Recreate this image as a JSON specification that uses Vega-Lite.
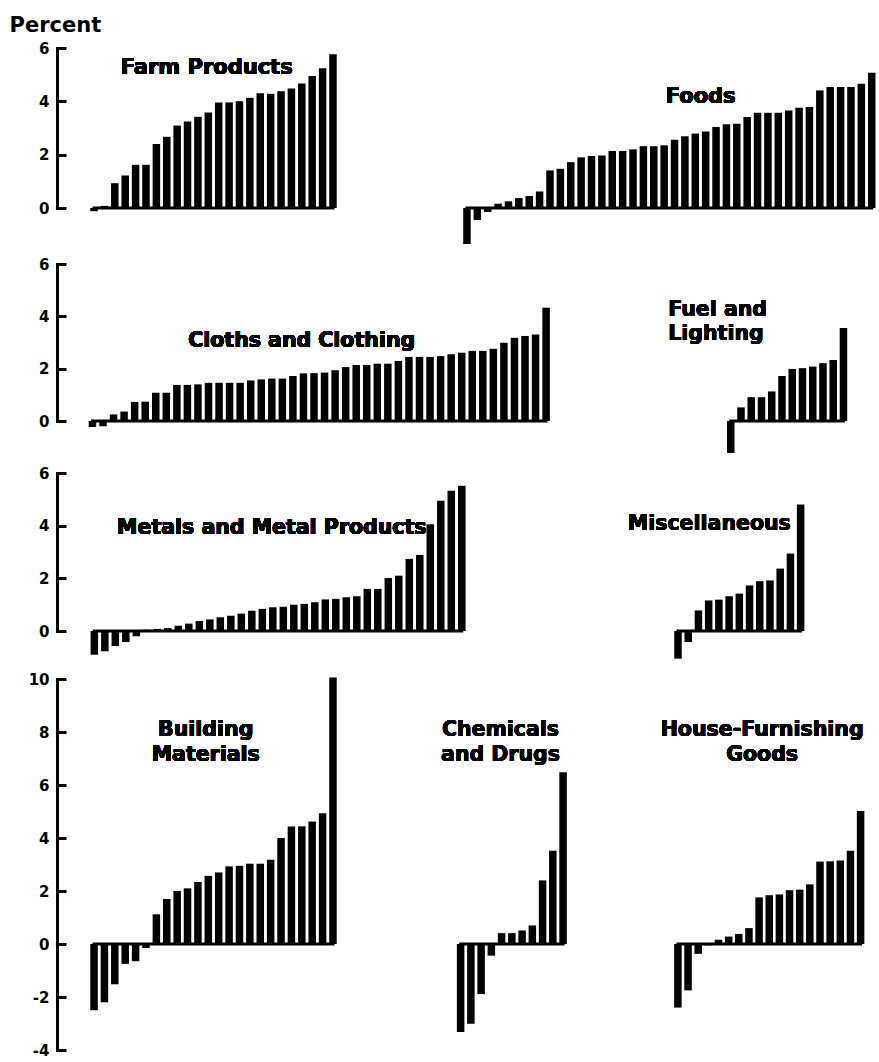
{
  "$schema": "https://vega.github.io/schema/vega-lite/v6.json",
  "padding": {"left": 9, "top": 14, "right": 0, "bottom": 0},
  "background": "white",
  "config": {"view": {"stroke": null}, "axis": {"grid": false}},
  "datasets": {
    "farm": [{"rank":1,"value":-0.12},{"rank":2,"value":0.08},{"rank":3,"value":0.93},{"rank":4,"value":1.22},{"rank":5,"value":1.62},{"rank":6,"value":1.62},{"rank":7,"value":2.4},{"rank":8,"value":2.67},{"rank":9,"value":3.09},{"rank":10,"value":3.24},{"rank":11,"value":3.42},{"rank":12,"value":3.58},{"rank":13,"value":3.96},{"rank":14,"value":3.96},{"rank":15,"value":4.0},{"rank":16,"value":4.13},{"rank":17,"value":4.3},{"rank":18,"value":4.28},{"rank":19,"value":4.38},{"rank":20,"value":4.48},{"rank":21,"value":4.67},{"rank":22,"value":4.95},{"rank":23,"value":5.24},{"rank":24,"value":5.77}],
    "foods": [{"rank":1,"value":-1.35},{"rank":2,"value":-0.45},{"rank":3,"value":-0.15},{"rank":4,"value":0.16},{"rank":5,"value":0.25},{"rank":6,"value":0.37},{"rank":7,"value":0.45},{"rank":8,"value":0.62},{"rank":9,"value":1.41},{"rank":10,"value":1.47},{"rank":11,"value":1.72},{"rank":12,"value":1.9},{"rank":13,"value":1.95},{"rank":14,"value":1.97},{"rank":15,"value":2.14},{"rank":16,"value":2.14},{"rank":17,"value":2.2},{"rank":18,"value":2.32},{"rank":19,"value":2.32},{"rank":20,"value":2.35},{"rank":21,"value":2.56},{"rank":22,"value":2.69},{"rank":23,"value":2.79},{"rank":24,"value":2.87},{"rank":25,"value":3.04},{"rank":26,"value":3.14},{"rank":27,"value":3.16},{"rank":28,"value":3.41},{"rank":29,"value":3.57},{"rank":30,"value":3.57},{"rank":31,"value":3.57},{"rank":32,"value":3.66},{"rank":33,"value":3.76},{"rank":34,"value":3.79},{"rank":35,"value":4.41},{"rank":36,"value":4.54},{"rank":37,"value":4.54},{"rank":38,"value":4.54},{"rank":39,"value":4.66},{"rank":40,"value":5.07}],
    "cloths": [{"rank":1,"value":-0.23},{"rank":2,"value":-0.2},{"rank":3,"value":0.25},{"rank":4,"value":0.36},{"rank":5,"value":0.73},{"rank":6,"value":0.74},{"rank":7,"value":1.08},{"rank":8,"value":1.08},{"rank":9,"value":1.38},{"rank":10,"value":1.38},{"rank":11,"value":1.4},{"rank":12,"value":1.46},{"rank":13,"value":1.46},{"rank":14,"value":1.46},{"rank":15,"value":1.46},{"rank":16,"value":1.55},{"rank":17,"value":1.59},{"rank":18,"value":1.62},{"rank":19,"value":1.62},{"rank":20,"value":1.72},{"rank":21,"value":1.82},{"rank":22,"value":1.83},{"rank":23,"value":1.85},{"rank":24,"value":1.94},{"rank":25,"value":2.06},{"rank":26,"value":2.14},{"rank":27,"value":2.14},{"rank":28,"value":2.19},{"rank":29,"value":2.19},{"rank":30,"value":2.29},{"rank":31,"value":2.45},{"rank":32,"value":2.45},{"rank":33,"value":2.45},{"rank":34,"value":2.48},{"rank":35,"value":2.55},{"rank":36,"value":2.61},{"rank":37,"value":2.68},{"rank":38,"value":2.68},{"rank":39,"value":2.76},{"rank":40,"value":2.99},{"rank":41,"value":3.18},{"rank":42,"value":3.25},{"rank":43,"value":3.31},{"rank":44,"value":4.33}],
    "fuel": [{"rank":1,"value":-1.22},{"rank":2,"value":0.52},{"rank":3,"value":0.91},{"rank":4,"value":0.91},{"rank":5,"value":1.13},{"rank":6,"value":1.72},{"rank":7,"value":1.99},{"rank":8,"value":2.02},{"rank":9,"value":2.08},{"rank":10,"value":2.21},{"rank":11,"value":2.33},{"rank":12,"value":3.55}],
    "metals": [{"rank":1,"value":-0.9},{"rank":2,"value":-0.77},{"rank":3,"value":-0.57},{"rank":4,"value":-0.42},{"rank":5,"value":-0.2},{"rank":6,"value":0.05},{"rank":7,"value":0.08},{"rank":8,"value":0.11},{"rank":9,"value":0.2},{"rank":10,"value":0.28},{"rank":11,"value":0.38},{"rank":12,"value":0.44},{"rank":13,"value":0.52},{"rank":14,"value":0.58},{"rank":15,"value":0.66},{"rank":16,"value":0.77},{"rank":17,"value":0.84},{"rank":18,"value":0.9},{"rank":19,"value":0.92},{"rank":20,"value":1.0},{"rank":21,"value":1.03},{"rank":22,"value":1.09},{"rank":23,"value":1.2},{"rank":24,"value":1.22},{"rank":25,"value":1.28},{"rank":26,"value":1.32},{"rank":27,"value":1.6},{"rank":28,"value":1.6},{"rank":29,"value":2.01},{"rank":30,"value":2.1},{"rank":31,"value":2.74},{"rank":32,"value":2.89},{"rank":33,"value":4.05},{"rank":34,"value":4.95},{"rank":35,"value":5.33},{"rank":36,"value":5.52}],
    "misc": [{"rank":1,"value":-1.05},{"rank":2,"value":-0.42},{"rank":3,"value":0.78},{"rank":4,"value":1.16},{"rank":5,"value":1.19},{"rank":6,"value":1.32},{"rank":7,"value":1.42},{"rank":8,"value":1.73},{"rank":9,"value":1.89},{"rank":10,"value":1.92},{"rank":11,"value":2.37},{"rank":12,"value":2.94},{"rank":13,"value":4.8}],
    "building": [{"rank":1,"value":-2.5},{"rank":2,"value":-2.2},{"rank":3,"value":-1.52},{"rank":4,"value":-0.75},{"rank":5,"value":-0.65},{"rank":6,"value":-0.15},{"rank":7,"value":1.12},{"rank":8,"value":1.7},{"rank":9,"value":2.0},{"rank":10,"value":2.1},{"rank":11,"value":2.34},{"rank":12,"value":2.57},{"rank":13,"value":2.7},{"rank":14,"value":2.93},{"rank":15,"value":2.95},{"rank":16,"value":3.03},{"rank":17,"value":3.03},{"rank":18,"value":3.18},{"rank":19,"value":4.0},{"rank":20,"value":4.43},{"rank":21,"value":4.44},{"rank":22,"value":4.62},{"rank":23,"value":4.93},{"rank":24,"value":10.06}],
    "chem": [{"rank":1,"value":-3.32},{"rank":2,"value":-3.01},{"rank":3,"value":-1.89},{"rank":4,"value":-0.44},{"rank":5,"value":0.41},{"rank":6,"value":0.41},{"rank":7,"value":0.51},{"rank":8,"value":0.7},{"rank":9,"value":2.4},{"rank":10,"value":3.52},{"rank":11,"value":6.48}],
    "house": [{"rank":1,"value":-2.4},{"rank":2,"value":-1.75},{"rank":3,"value":-0.37},{"rank":4,"value":-0.05},{"rank":5,"value":0.16},{"rank":6,"value":0.28},{"rank":7,"value":0.38},{"rank":8,"value":0.6},{"rank":9,"value":1.76},{"rank":10,"value":1.84},{"rank":11,"value":1.87},{"rank":12,"value":2.03},{"rank":13,"value":2.05},{"rank":14,"value":2.25},{"rank":15,"value":3.11},{"rank":16,"value":3.12},{"rank":17,"value":3.15},{"rank":18,"value":3.52},{"rank":19,"value":5.02}]
  },
  "spacing": 13,
  "resolve": {"scale": {"x": "independent", "y": "independent"}},
  "vconcat": [
    {
      "hconcat": [
        {
          "width": 343, "height": 160,
          "data": {"name": "farm"},
          "layer": [
            {"mark": {"type": "bar", "orient": "vertical", "size": 7.5, "color": "#000"},
             "encoding": {
               "x": {"field": "rank", "type": "quantitative", "scale": {"domain": [-2.084, 29.97], "nice": false}, "axis": null},
               "y": {"field": "value", "type": "quantitative", "scale": {"domain": [0, 6], "nice": false},
                     "axis": {"values": [0, 2, 4, 6], "domainWidth": 3, "domainColor": "#000", "domainCap": "square", "tickWidth": 3, "tickColor": "#000", "tickSize": -9, "labelPadding": 17, "labelFont": "DejaVu Sans", "labelFontWeight": "bold", "labelFontSize": 15, "labelColor": "#000", "labelExpr": "datum.value + ''",
                              "title": "Percent", "titleAngle": 0, "titleAlign": "left", "titleBaseline": "alphabetic", "titleX": -48, "titleY": -17, "titleFont": "DejaVu Sans", "titleFontSize": 21, "titleFontWeight": "bold", "titleColor": "#000"}}
             }},
            {"mark": {"type": "rule", "strokeWidth": 3, "strokeCap": "square", "color": "#000"},
             "encoding": {"x": {"aggregate": "min", "field": "rank", "type": "quantitative"}, "x2": {"aggregate": "max", "field": "rank"}, "y": {"datum": 0}}},
            {"mark": {"type": "text", "font": "DejaVu Sans", "fontWeight": "bold", "fontSize": 21, "align": "center", "baseline": "alphabetic", "color": "#000"},
             "encoding": {"x": {"datum": 11.84}, "y": {"datum": 5.02}, "text": {"value": "Farm Products"}}}
          ]
        },
        {
          "width": 479, "height": 160,
          "data": {"name": "foods"},
          "layer": [
            {"mark": {"type": "bar", "orient": "vertical", "size": 7.5, "color": "#000"},
             "encoding": {
               "x": {"field": "rank", "type": "quantitative", "scale": {"domain": [-4.97, 40.22], "nice": false}, "axis": null},
               "y": {"field": "value", "type": "quantitative", "scale": {"domain": [0, 6], "nice": false}, "axis": null}
             }},
            {"mark": {"type": "rule", "strokeWidth": 3, "strokeCap": "square", "color": "#000"},
             "encoding": {"x": {"aggregate": "min", "field": "rank", "type": "quantitative"}, "x2": {"aggregate": "max", "field": "rank"}, "y": {"datum": 0}}},
            {"mark": {"type": "text", "font": "DejaVu Sans", "fontWeight": "bold", "fontSize": 21, "align": "center", "baseline": "alphabetic", "color": "#000"},
             "encoding": {"x": {"datum": 23.52}, "y": {"datum": 3.94}, "text": {"value": "Foods"}}}
          ]
        }
      ],
      "spacing": 0, "bounds": "flush",
      "resolve": {"scale": {"x": "independent", "y": "independent"}}
    },
    {
      "hconcat": [
        {
          "width": 563, "height": 157,
          "data": {"name": "cloths"},
          "layer": [
            {"mark": {"type": "bar", "orient": "vertical", "size": 7.5, "color": "#000"},
             "encoding": {
               "x": {"field": "rank", "type": "quantitative", "scale": {"domain": [-1.886, 50.53], "nice": false}, "axis": null},
               "y": {"field": "value", "type": "quantitative", "scale": {"domain": [0, 6], "nice": false},
                     "axis": {"values": [0, 2, 4, 6], "domainWidth": 3, "domainColor": "#000", "domainCap": "square", "tickWidth": 3, "tickColor": "#000", "tickSize": -9, "labelPadding": 17, "labelFont": "DejaVu Sans", "labelFontWeight": "bold", "labelFontSize": 15, "labelColor": "#000", "labelExpr": "datum.value + ''", "title": null}}
             }},
            {"mark": {"type": "rule", "strokeWidth": 3, "strokeCap": "square", "color": "#000"},
             "encoding": {"x": {"aggregate": "min", "field": "rank", "type": "quantitative"}, "x2": {"aggregate": "max", "field": "rank"}, "y": {"datum": 0}}},
            {"mark": {"type": "text", "font": "DejaVu Sans", "fontWeight": "bold", "fontSize": 20.5, "align": "center", "baseline": "alphabetic", "color": "#000"},
             "encoding": {"x": {"datum": 20.83}, "y": {"datum": 2.83}, "text": {"value": "Cloths and Clothing"}}}
          ]
        },
        {
          "width": 259, "height": 157,
          "data": {"name": "fuel"},
          "layer": [
            {"mark": {"type": "bar", "orient": "vertical", "size": 7.5, "color": "#000"},
             "encoding": {
               "x": {"field": "rank", "type": "quantitative", "scale": {"domain": [-9.32, 14.98], "nice": false}, "axis": null},
               "y": {"field": "value", "type": "quantitative", "scale": {"domain": [0, 6], "nice": false}, "axis": null}
             }},
            {"mark": {"type": "rule", "strokeWidth": 3, "strokeCap": "square", "color": "#000"},
             "encoding": {"x": {"aggregate": "min", "field": "rank", "type": "quantitative"}, "x2": {"aggregate": "max", "field": "rank"}, "y": {"datum": 0}}},
            {"mark": {"type": "text", "font": "DejaVu Sans", "fontWeight": "bold", "fontSize": 20.5, "align": "left", "baseline": "alphabetic", "lineHeight": 24, "color": "#000"},
             "encoding": {"x": {"datum": -5.1}, "y": {"datum": 4.01}, "text": {"value": ["Fuel and", "Lighting"]}}}
          ]
        }
      ],
      "spacing": 0, "bounds": "flush",
      "resolve": {"scale": {"x": "independent", "y": "independent"}}
    },
    {
      "hconcat": [
        {
          "width": 503, "height": 158,
          "data": {"name": "metals"},
          "layer": [
            {"mark": {"type": "bar", "orient": "vertical", "size": 7.5, "color": "#000"},
             "encoding": {
               "x": {"field": "rank", "type": "quantitative", "scale": {"domain": [-2.081, 44.88], "nice": false}, "axis": null},
               "y": {"field": "value", "type": "quantitative", "scale": {"domain": [0, 6], "nice": false},
                     "axis": {"values": [0, 2, 4, 6], "domainWidth": 3, "domainColor": "#000", "domainCap": "square", "tickWidth": 3, "tickColor": "#000", "tickSize": -9, "labelPadding": 17, "labelFont": "DejaVu Sans", "labelFontWeight": "bold", "labelFontSize": 15, "labelColor": "#000", "labelExpr": "datum.value + ''", "title": null}}
             }},
            {"mark": {"type": "rule", "strokeWidth": 3, "strokeCap": "square", "color": "#000"},
             "encoding": {"x": {"aggregate": "min", "field": "rank", "type": "quantitative"}, "x2": {"aggregate": "max", "field": "rank"}, "y": {"datum": 0}}},
            {"mark": {"type": "text", "font": "DejaVu Sans", "fontWeight": "bold", "fontSize": 20.5, "align": "center", "baseline": "alphabetic", "color": "#000"},
             "encoding": {"x": {"datum": 17.9}, "y": {"datum": 3.68}, "text": {"value": "Metals and Metal Products"}}}
          ]
        },
        {
          "width": 319, "height": 158,
          "data": {"name": "misc"},
          "layer": [
            {"mark": {"type": "bar", "orient": "vertical", "size": 7.5, "color": "#000"},
             "encoding": {
               "x": {"field": "rank", "type": "quantitative", "scale": {"domain": [-10.06, 20.18], "nice": false}, "axis": null},
               "y": {"field": "value", "type": "quantitative", "scale": {"domain": [0, 6], "nice": false}, "axis": null}
             }},
            {"mark": {"type": "rule", "strokeWidth": 3, "strokeCap": "square", "color": "#000"},
             "encoding": {"x": {"aggregate": "min", "field": "rank", "type": "quantitative"}, "x2": {"aggregate": "max", "field": "rank"}, "y": {"datum": 0}}},
            {"mark": {"type": "text", "font": "DejaVu Sans", "fontWeight": "bold", "fontSize": 20.5, "align": "center", "baseline": "alphabetic", "color": "#000"},
             "encoding": {"x": {"datum": 4.06}, "y": {"datum": 3.84}, "text": {"value": "Miscellaneous"}}}
          ]
        }
      ],
      "spacing": 0, "bounds": "flush",
      "resolve": {"scale": {"x": "independent", "y": "independent"}}
    },
    {
      "hconcat": [
        {
          "width": 343, "height": 371,
          "data": {"name": "building"},
          "layer": [
            {"mark": {"type": "bar", "orient": "vertical", "size": 7.5, "color": "#000"},
             "encoding": {
               "x": {"field": "rank", "type": "quantitative", "scale": {"domain": [-2.084, 29.97], "nice": false}, "axis": null},
               "y": {"field": "value", "type": "quantitative", "scale": {"domain": [-4, 10], "nice": false},
                     "axis": {"values": [-4, -2, 0, 2, 4, 6, 8, 10], "domainWidth": 3, "domainColor": "#000", "domainCap": "square", "tickWidth": 3, "tickColor": "#000", "tickSize": -9, "labelPadding": 17, "labelFont": "DejaVu Sans", "labelFontWeight": "bold", "labelFontSize": 15, "labelColor": "#000", "labelExpr": "datum.value + ''", "title": null}}
             }},
            {"mark": {"type": "rule", "strokeWidth": 3, "strokeCap": "square", "color": "#000"},
             "encoding": {"x": {"aggregate": "min", "field": "rank", "type": "quantitative"}, "x2": {"aggregate": "max", "field": "rank"}, "y": {"datum": 0}}},
            {"mark": {"type": "text", "font": "DejaVu Sans", "fontWeight": "bold", "fontSize": 20.5, "align": "center", "baseline": "alphabetic", "lineHeight": 25, "color": "#000"},
             "encoding": {"x": {"datum": 11.75}, "y": {"datum": 7.85}, "text": {"value": ["Building", "Materials"]}}}
          ]
        },
        {
          "width": 220, "height": 371,
          "data": {"name": "chem"},
          "layer": [
            {"mark": {"type": "bar", "orient": "vertical", "size": 7.5, "color": "#000"},
             "encoding": {
               "x": {"field": "rank", "type": "quantitative", "scale": {"domain": [-4.43, 16.07], "nice": false}, "axis": null},
               "y": {"field": "value", "type": "quantitative", "scale": {"domain": [-4, 10], "nice": false}, "axis": null}
             }},
            {"mark": {"type": "rule", "strokeWidth": 3, "strokeCap": "square", "color": "#000"},
             "encoding": {"x": {"aggregate": "min", "field": "rank", "type": "quantitative"}, "x2": {"aggregate": "max", "field": "rank"}, "y": {"datum": 0}}},
            {"mark": {"type": "text", "font": "DejaVu Sans", "fontWeight": "bold", "fontSize": 20.5, "align": "center", "baseline": "alphabetic", "lineHeight": 25, "color": "#000"},
             "encoding": {"x": {"datum": 4.89}, "y": {"datum": 7.85}, "text": {"value": ["Chemicals", "and Drugs"]}}}
          ]
        },
        {
          "width": 259, "height": 371,
          "data": {"name": "house"},
          "layer": [
            {"mark": {"type": "bar", "orient": "vertical", "size": 7.5, "color": "#000"},
             "encoding": {
               "x": {"field": "rank", "type": "quantitative", "scale": {"domain": [-4.21, 20.32], "nice": false}, "axis": null},
               "y": {"field": "value", "type": "quantitative", "scale": {"domain": [-4, 10], "nice": false}, "axis": null}
             }},
            {"mark": {"type": "rule", "strokeWidth": 3, "strokeCap": "square", "color": "#000"},
             "encoding": {"x": {"aggregate": "min", "field": "rank", "type": "quantitative"}, "x2": {"aggregate": "max", "field": "rank"}, "y": {"datum": 0}}},
            {"mark": {"type": "text", "font": "DejaVu Sans", "fontWeight": "bold", "fontSize": 20.5, "align": "center", "baseline": "alphabetic", "lineHeight": 25, "color": "#000"},
             "encoding": {"x": {"datum": 9.3}, "y": {"datum": 7.85}, "text": {"value": ["House-Furnishing", "Goods"]}}}
          ]
        }
      ],
      "spacing": 0, "bounds": "flush",
      "resolve": {"scale": {"x": "independent", "y": "independent"}}
    }
  ]
}
